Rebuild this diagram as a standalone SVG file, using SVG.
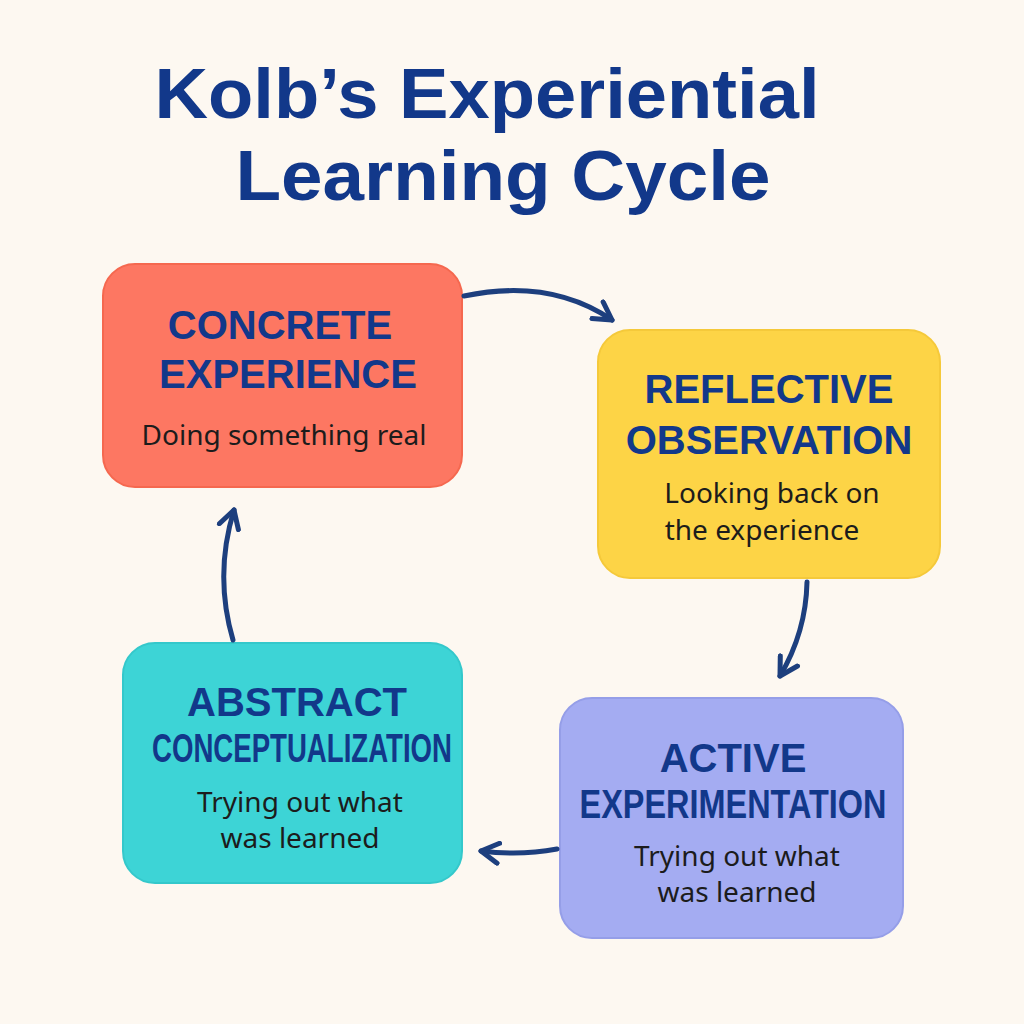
<svg xmlns="http://www.w3.org/2000/svg" width="1024" height="1024" viewBox="0 0 1024 1024">
<style>
.t{font-family:"Liberation Sans",Arial,sans-serif;fill:#12388a;font-weight:bold;text-anchor:middle}
.h{font-family:"Liberation Sans",Arial,sans-serif;fill:#12388a;font-weight:bold;text-anchor:middle;font-size:40px}
.b{font-family:"Noto Sans","Liberation Sans",sans-serif;fill:#1c1c1c;text-anchor:middle;font-size:28px}
.c{fill:none;stroke:#1d3f7e;stroke-width:5;stroke-linecap:round;marker-end:url(#ah)}
</style>
<defs>
<marker id="ah" viewBox="0 0 10 10" refX="8" refY="5" markerWidth="5" markerHeight="5" orient="auto" markerUnits="strokeWidth">
<path d="M1,1 L8,5 L1,9" fill="none" stroke="#1d3f7e" stroke-width="2" stroke-linecap="round" stroke-linejoin="round"/>
</marker>
</defs>
<rect width="1024" height="1024" fill="#fdf8f1"/>
<g id="title">
<text class="t" x="487" y="118" font-size="70" textLength="665" lengthAdjust="spacingAndGlyphs">Kolb’s Experiential</text>
<text class="t" x="503" y="200" font-size="70" textLength="535" lengthAdjust="spacingAndGlyphs">Learning Cycle</text>
</g>
<g id="concrete">
<rect x="103" y="264" width="359" height="223" rx="32" fill="#fd7762" stroke="#f5684f" stroke-width="2"/>
<text class="h" x="280" y="339">CONCRETE</text>
<text class="h" x="288" y="388">EXPERIENCE</text>
<text class="b" x="284" y="445">Doing something real</text>
</g>
<g id="reflective">
<rect x="598" y="330" width="342" height="248" rx="32" fill="#fdd446" stroke="#f5c93a" stroke-width="2"/>
<text class="h" x="769" y="403">REFLECTIVE</text>
<text class="h" x="769" y="454">OBSERVATION</text>
<text class="b" x="772" y="503">Looking back on</text>
<text class="b" x="762" y="540">the experience</text>
</g>
<g id="active">
<rect x="560" y="698" width="343" height="240" rx="32" fill="#a4acf2" stroke="#959ee8" stroke-width="2"/>
<text class="h" x="733" y="772">ACTIVE</text>
<text class="h" x="733" y="818" font-size="34" textLength="307" lengthAdjust="spacingAndGlyphs">EXPERIMENTATION</text>
<text class="b" x="737" y="866">Trying out what</text>
<text class="b" x="737" y="902">was learned</text>
</g>
<g id="abstract">
<rect x="123" y="643" width="339" height="240" rx="32" fill="#3dd4d6" stroke="#34c8cb" stroke-width="2"/>
<text class="h" x="297" y="716">ABSTRACT</text>
<text class="h" x="302" y="762" font-size="32" textLength="300" lengthAdjust="spacingAndGlyphs">CONCEPTUALIZATION</text>
<text class="b" x="300" y="812">Trying out what</text>
<text class="b" x="300" y="848">was learned</text>
</g>
<g id="connectors">
<path class="c" d="M464,296 Q550,278 612,320"/>
<path class="c" d="M807,582 Q806,632 780,676"/>
<path class="c" d="M557,849 Q520,856 481,851"/>
<path class="c" d="M233,640 Q214,575 234,510"/>
</g>
</svg>
